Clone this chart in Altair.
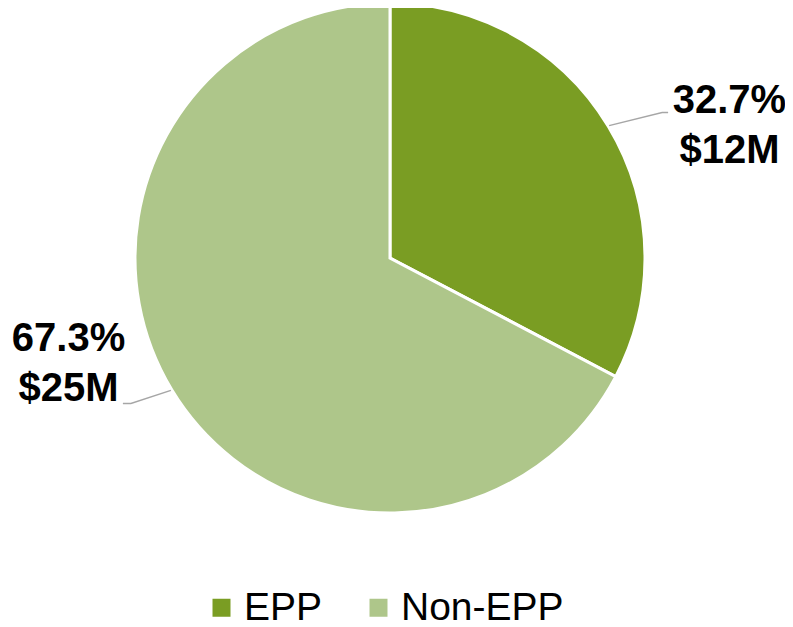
import math
import altair as alt
import pandas as pd

categories = ["EPP", "Non-EPP"]
shares = [32.7, 67.3]
amounts = ["$12M", "$25M"]
colors = ["#7a9d23", "#aec68a"]

CX, CY, R = 382, 250, 255

df = pd.DataFrame({
    "category": categories,
    "share": shares,
    "idx": list(range(len(categories))),
    "label": [[f"{s:.1f}%", a] for s, a in zip(shares, amounts)],
})

# leader lines derived from slice mid-angles
total = sum(shares)
rows = []
cum = 0.0
elbow = {"EPP": (53, -13), "Non-EPP": (-40, 13)}
tail = {"EPP": 6, "Non-EPP": -8}
for c, s in zip(categories, shares):
    mid = (cum + s / 2) / total * 2 * math.pi
    cum += s
    x0 = CX + (R + 1) * math.sin(mid)
    y0 = CY - (R + 1) * math.cos(mid)
    ex, ey = x0 + elbow[c][0], y0 + elbow[c][1]
    rows += [
        {"category": c, "o": 0, "px": x0, "py": y0},
        {"category": c, "o": 1, "px": ex, "py": ey},
        {"category": c, "o": 2, "px": ex + tail[c], "py": ey},
    ]
lines_df = pd.DataFrame(rows)

color = alt.Color(
    "category:N",
    scale=alt.Scale(domain=categories, range=colors),
    sort=categories,
    legend=alt.Legend(
        title=None,
        orient="none",
        legendX=194,
        legendY=580,
        direction="horizontal",
        symbolType="square",
        symbolSize=324,
        symbolStrokeWidth=0,
        labelFontSize=39,
        labelFont="Liberation Sans",
        labelColor="#000000",
        labelOffset=3,
        labelLimit=400,
        columnPadding=36,
        padding=0,
    ),
)

base = alt.Chart(df)

pie = base.mark_arc(radius=R, stroke="white", strokeWidth=3).encode(
    theta=alt.Theta("share:Q", stack=True),
    color=color,
    order=alt.Order("idx:Q"),
    x=alt.value(CX),
    y=alt.value(CY),
)

def label_layer(cat, dx, dy):
    return base.transform_window(
        cum="sum(share)", sort=[alt.SortField("idx")]
    ).transform_calculate(
        mid="datum.cum - datum.share / 2"
    ).transform_filter(alt.datum.category == cat).mark_text(
        radius=330,
        font="Liberation Sans",
        fontWeight="bold",
        fontSize=40,
        lineHeight=50,
        align="center",
        baseline="alphabetic",
        dx=dx,
        dy=dy,
        color="#000000",
    ).encode(
        theta=alt.Theta("mid:Q", stack=None),
        text="label",
        x=alt.value(CX),
        y=alt.value(CY),
    )

labels_epp = label_layer("EPP", 57, 26)
labels_non = label_layer("Non-EPP", -39, -78)

leaders = alt.Chart(lines_df).mark_line(color="#a6a6a6", strokeWidth=1.5).encode(
    x=alt.X("px:Q", scale=None),
    y=alt.Y("py:Q", scale=None),
    detail="category:N",
    order="o:Q",
)

chart = alt.layer(pie, leaders, labels_epp, labels_non).properties(
    width=777, height=619, autosize=alt.AutoSizeParams(type="none"), padding=0
).configure_view(stroke=None)

chart.save("out.html", embed_options={"renderer": "svg", "actions": False})
